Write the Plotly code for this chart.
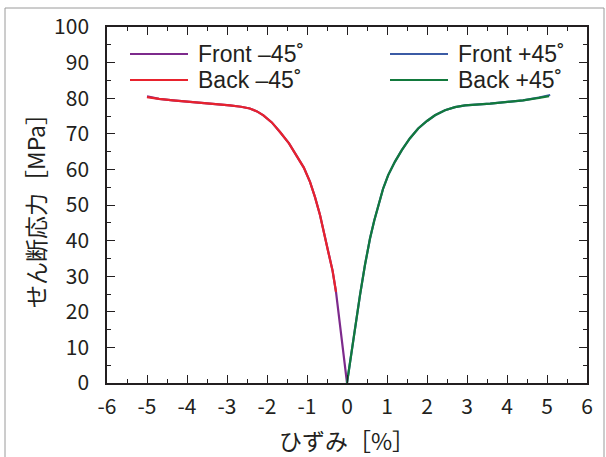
import plotly.graph_objects as go

# Strain [%] and shear stress [MPa]
front_m45_x = [0, -0.1, -0.2, -0.275, -0.36, -0.47, -0.57, -0.675, -0.8, -0.925, -1.08, -1.26, -1.45, -1.675,
               -1.88, -2.09, -2.25, -2.43, -2.65, -2.93, -3.5, -4.0, -4.35, -4.7, -5.0]
front_m45_y = [0, 9.5, 19.0, 25.6, 31.5, 36.9, 42.3, 47.2, 52.2, 56.5, 60.5, 64.0, 67.3, 70.5,
               73.2, 75.2, 76.3, 77.1, 77.6, 78.0, 78.5, 79.0, 79.4, 79.8, 80.5]
back_m45_x = [-0.275, -0.36, -0.47, -0.57, -0.675, -0.8, -0.925, -1.08, -1.26, -1.45, -1.675,
              -1.88, -2.09, -2.25, -2.43, -2.65, -2.93, -3.5, -4.0, -4.35, -4.7, -5.0]
back_m45_y = [25.6, 31.5, 36.9, 42.3, 47.2, 52.2, 56.5, 60.5, 64.0, 67.3, 70.5,
              73.2, 75.2, 76.3, 77.1, 77.6, 78.0, 78.5, 79.0, 79.4, 79.8, 80.3]
front_p45_x = [0, 0.1, 0.2, 0.325, 0.45, 0.575, 0.68, 0.78, 0.9, 1.03, 1.2, 1.37, 1.57, 1.78,
               2.0, 2.2, 2.45, 2.7, 2.95, 3.58, 4.0, 4.4, 4.8, 5.08]
front_p45_y = [0, 8.0, 15.8, 24.7, 33.2, 40.6, 45.6, 50.0, 54.5, 58.4, 62.2, 65.4, 68.7, 71.5,
               73.6, 75.2, 76.6, 77.5, 78.0, 78.5, 78.9, 79.4, 80.2, 80.9]
back_p45_x = [0, 0.1, 0.2, 0.325, 0.45, 0.575, 0.68, 0.78, 0.9, 1.03, 1.2, 1.37, 1.57, 1.78,
              2.0, 2.2, 2.45, 2.7, 2.95, 3.58, 4.0, 4.4, 4.8, 5.05]
back_p45_y = [0, 8.0, 15.8, 24.7, 33.2, 40.6, 45.6, 50.0, 54.5, 58.4, 62.2, 65.4, 68.7, 71.5,
              73.6, 75.2, 76.6, 77.5, 78.0, 78.5, 78.9, 79.4, 80.1, 80.6]

x_ticks = [-6, -5, -4, -3, -2, -1, 0, 1, 2, 3, 4, 5, 6]
x_ticktext = ["-6", "-5", "-4", "-3", "-2", "-1", "0", "1", "2", "3", "4", "5", "6"]
y_ticks = [0, 10, 20, 30, 40, 50, 60, 70, 80, 90, 100]

names = ["Front \u201345\u02da", "Front +45\u02da", "Back \u201345\u02da", "Back +45\u02da"]
colors = ["#7d2a8c", "#3b5ba5", "#e8222d", "#12793c"]
series = [(front_m45_x, front_m45_y), (front_p45_x, front_p45_y),
          (back_m45_x, back_m45_y), (back_p45_x, back_p45_y)]

TXT = "#231f20"
FONT = "Noto Sans CJK JP"
LEGFONT = "Liberation Sans"

# plot-area geometry (pixels) used for placing the hand-drawn legend and frame
L, R, T, B = 107, 587, 27, 383
W, H = R - L, B - T
def px(xp):
    return (xp - L) / W
def py(yp):
    return (B - yp) / H

fig = go.Figure()
for (xs, ys), n, c in zip(series, names, colors):
    fig.add_trace(go.Scatter(x=xs, y=ys, mode="lines", name=n, showlegend=False,
                             line=dict(color=c, width=2.2)))

axis_common = dict(
    showline=True, linecolor=TXT, linewidth=1.5, mirror="allticks",
    ticks="inside", ticklen=8, tickwidth=1.3, tickcolor=TXT,
    showgrid=False, zeroline=False, automargin=False,
    tickfont=dict(family=FONT, size=21, color=TXT),
)

fig.update_xaxes(range=[-6, 6], tickvals=x_ticks, ticktext=x_ticktext, ticklabelstandoff=4,
                 minor=dict(dtick=0.5, ticks="inside", ticklen=4, tickcolor=TXT, tickwidth=1.2),
                 title=dict(text="ひずみ［%］", font=dict(family=FONT, size=23, color=TXT), standoff=15),
                 **axis_common)
fig.update_yaxes(range=[0, 100], tickvals=y_ticks, ticklabelstandoff=12,
                 minor=dict(dtick=5, ticks="inside", ticklen=4, tickcolor=TXT, tickwidth=1.2),
                 title=dict(text="せん断応力［MPa］", font=dict(family=FONT, size=23, color=TXT), standoff=2),
                 **axis_common)

# outer frame
fig.add_shape(type="rect", xref="paper", yref="paper",
              x0=px(5), x1=px(604), y0=py(470), y1=py(8),
              line=dict(color="#9a9a9a", width=1), layer="below")

# legend (two columns)
leg_pos = [(130, 54), (390, 54), (130, 80), (390, 80)]
for (lx, ly), n, c in zip(leg_pos, names, colors):
    fig.add_shape(type="line", xref="paper", yref="paper",
                  x0=px(lx), x1=px(lx + 58), y0=py(ly), y1=py(ly),
                  line=dict(color=c, width=2))
    fig.add_annotation(xref="paper", yref="paper", x=px(lx + 66), y=py(ly),
                       xanchor="left", yanchor="middle", text=n, showarrow=False,
                       font=dict(family=LEGFONT, size=23, color=TXT))

fig.update_layout(
    width=606, height=457,
    margin=dict(l=L, r=606 - R, t=T, b=457 - B),
    paper_bgcolor="white", plot_bgcolor="white",
    showlegend=False,
)

fig.write_html("out.html", config={"displayModeBar": False},
               post_script="document.body.style.margin='0';document.body.style.overflow='hidden';")
